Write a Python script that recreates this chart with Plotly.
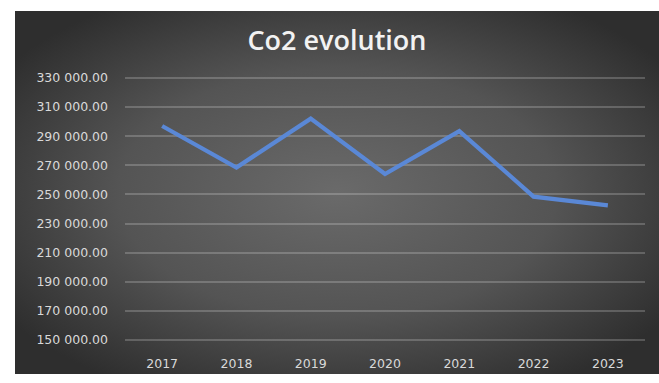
import base64
import plotly.graph_objects as go

# CO2 emissions per year
years = ["2017", "2018", "2019", "2020", "2021", "2022", "2023"]
co2 = [297000, 268500, 302000, 264000, 293500, 248500, 242500]

# Value axis ticks
y_tickvals = [150000, 170000, 190000, 210000, 230000, 250000, 270000, 290000, 310000, 330000]
y_ticktext = ["150 000.00", "170 000.00", "190 000.00", "210 000.00", "230 000.00",
              "250 000.00", "270 000.00", "290 000.00", "310 000.00", "330 000.00"]

W, H = 659, 383
L, R, T, B = 125, 14, 76, 33
plot_w = W - L - R
plot_h = H - T - B

# Dark radial-gradient chart background (drawn as an SVG image)
svg = (
    '<svg xmlns="http://www.w3.org/2000/svg" width="644" height="374" preserveAspectRatio="none">'
    '<defs><radialGradient id="g" cx="0.5" cy="0.5" r="0.62">'
    '<stop offset="0" stop-color="#6a6a6a"/>'
    '<stop offset="0.55" stop-color="#545454"/>'
    '<stop offset="1" stop-color="#2e2e2e"/>'
    '</radialGradient></defs>'
    '<rect width="644" height="374" fill="url(#g)"/></svg>'
)
bg_src = "data:image/svg+xml;base64," + base64.b64encode(svg.encode()).decode()

bg_left, bg_top = 15, 9
bg_w, bg_h = W - bg_left, H - bg_top

fig = go.Figure()
fig.add_trace(go.Scatter(
    x=years, y=co2, mode="lines",
    line=dict(color="#5a88d6", width=4.2),
    hoverinfo="x+y",
))

fig.add_layout_image(dict(
    source=bg_src, xref="paper", yref="paper",
    x=(bg_left - L) / plot_w, y=(H - B - bg_top) / plot_h,
    sizex=bg_w / plot_w, sizey=bg_h / plot_h,
    xanchor="left", yanchor="top", sizing="stretch", layer="below",
))

fig.update_layout(
    width=W, height=H,
    margin=dict(l=L, r=R, t=T, b=B),
    paper_bgcolor="white",
    plot_bgcolor="rgba(0,0,0,0)",
    showlegend=False,
    title=dict(
        text="Co2 evolution",
        x=337 / W, xanchor="center",
        y=1 - 41 / H, yanchor="middle",
        font=dict(family="Open Sans", size=27, weight=600, color="#f2f2f2"),
    ),
    xaxis=dict(
        type="category", range=[-0.5, 6.5],
        showgrid=False, zeroline=False, showline=False,
        ticks="", ticklabelstandoff=12,
        tickfont=dict(family="DejaVu Sans", size=12.5, color="#d9d9d9"),
    ),
    yaxis=dict(
        range=[148700, 331300],
        tickvals=y_tickvals, ticktext=y_ticktext,
        showgrid=True, gridcolor="rgba(255,255,255,0.2)", gridwidth=1.5,
        zeroline=False, showline=False, ticks="", ticklabelstandoff=16,
        tickfont=dict(family="DejaVu Sans", size=12.5, color="#d9d9d9"),
    ),
)

fig.write_html("out.html")
